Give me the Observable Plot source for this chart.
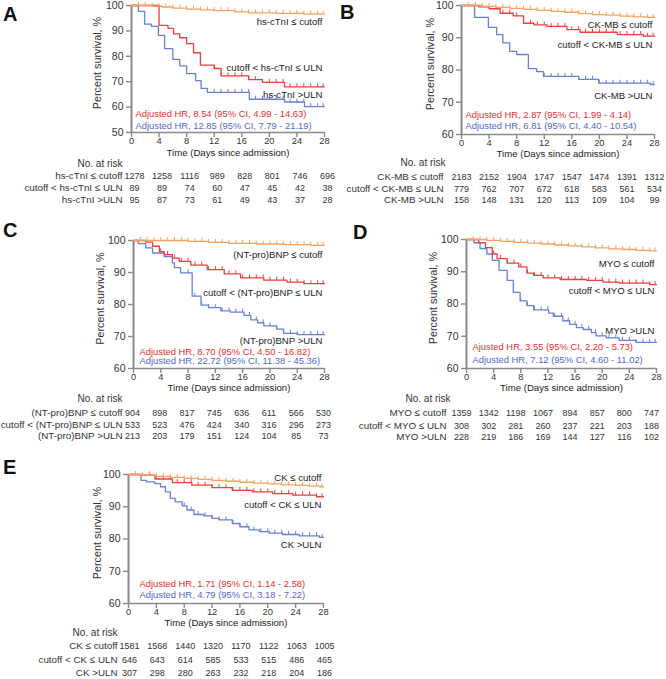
<!DOCTYPE html>
<html><head><meta charset="utf-8">
<script src="https://cdn.jsdelivr.net/npm/d3@7"></script>
<script src="https://cdn.jsdelivr.net/npm/@observablehq/plot@0.6"></script>
<style>
body{margin:0;background:#fff;}
#wrap{position:relative;width:666px;height:679px;overflow:hidden;background:#fff;}
#wrap svg{position:absolute;overflow:visible;}
.letter{position:absolute;font:bold 20px "Liberation Sans",Arial,sans-serif;line-height:20px;color:#111;}
</style></head>
<body><div id="wrap"></div>
<script>
// ---------- shared ----------
const days = [0, 4, 8, 12, 16, 20, 24, 28];
const censorDays = [1,2,3,4,5,6,7,8,9,10,11,12,13,14,15,16,17,18,19,20,21,22,23,24,25,26,27,27.8];
const COL_LOW = "#f7a25e", COL_MID = "#ef3e3e", COL_HIGH = "#6b7fd4";
const HR_MID = "#eb2d2d", HR_HIGH = "#5468c9";

// ---------- Panel A: hs-cTnI ----------
const aLow  = [[0,100],[3,99.7],[4.5,99.4],[6,99],[8,98.6],[10,98.3],[12,98],[15,97.5],[17,97.1],[21,96.9],[25,96.6]];
const aMid  = [[0,100],[4,92.2],[5.3,91],[6.1,88.8],[7,87.3],[8,85],[9,81.4],[10,76.5],[12,75.2],[13,72.3],[17,70.8],[19,69.7],[22.2,68]];
const aHigh = [[0,100],[1,97.7],[1.9,92.7],[2.9,91.8],[3.9,88.2],[4.8,83],[6,78.8],[7,76.2],[8,73.2],[9.3,70.4],[10.1,67.4],[11,65.8],[17.1,63.1],[22.2,62],[25.1,60.2]];
const aRiskLow  = [1278,1258,1116,989,828,801,746,696];
const aRiskMid  = [89,89,74,60,47,45,42,38];
const aRiskHigh = [95,87,73,61,49,43,37,28];
const aGroups = ["hs-cTnI ≤ cutoff", "cutoff < hs-cTnI ≤ ULN", "hs-cTnI >ULN"];
const aHR = ["Adjusted HR, 8.54 (95% CI, 4.99 - 14.63)", "Adjusted HR, 12.85 (95% CI, 7.79 - 21.19)"];
const aLabelY = [93.5, 75.6, 64.9, 57.4, 52.6];

// ---------- Panel B: CK-MB ----------
const bLow  = [[0,100],[3,99.7],[5,99.4],[7,99.1],[9,98.8],[11,98.5],[13,98.2],[15,97.9],[17,97.5],[19,97.2],[21,97],[23,96.7],[25,96.5],[27,96.3]];
const bMid  = [[0,100],[2.5,99.6],[4,99],[5.6,97.6],[7.5,96.8],[9,94.5],[10.5,94],[12.4,93.5],[15.3,92.5],[17.2,91.7],[22.6,91],[26.4,90.5]];
const bHigh = [[0,100],[1.9,96.3],[3.9,93.2],[5.1,91],[6,88.4],[7,85.8],[8,84.8],[9.7,80.4],[10.9,79.5],[11.9,78],[17,77.1],[19.9,75.9],[27.4,75.5]];
const bRiskLow  = [2183,2152,1904,1747,1547,1474,1391,1312];
const bRiskMid  = [779,762,707,672,618,583,561,534];
const bRiskHigh = [158,148,131,120,113,109,104,99];
const bGroups = ["CK-MB ≤ cutoff", "cutoff < CK-MB ≤ ULN", "CK-MB >ULN"];
const bHR = ["Adjusted HR, 2.87 (95% CI, 1.99 - 4.14)", "Adjusted HR, 6.81 (95% CI, 4.40 - 10.54)"];
const bLabelY = [94, 87.7, 71.9, 66, 62.5];

// ---------- Panel C: (NT-pro)BNP ----------
const cLow  = [[0,100],[8,99.7],[11,99.4],[14,99.1],[18,98.9],[22,98.7],[26,98.5]];
const cMid  = [[0,100],[1.8,99.5],[2.8,98.2],[3.8,96.5],[4.5,95.6],[5.7,94.5],[6.7,93.5],[8.4,92.3],[10.8,90.9],[13.3,89.6],[15.7,88.3],[19.1,87.6],[22.5,87],[25,86.5]];
const cHigh = [[0,100],[0.7,99],[1.8,97.7],[2.8,96.1],[4.5,95],[5.7,93],[6,91.5],[6.9,89.9],[8.6,82.6],[9.9,79.8],[11,79],[12.8,78],[14.2,77.6],[16.2,76.6],[17.2,75.2],[18.2,74.3],[19.1,73.3],[21,72.3],[22,71],[24,70.6]];
const cRiskLow  = [904,898,817,745,636,611,566,530];
const cRiskMid  = [533,523,476,424,340,316,296,273];
const cRiskHigh = [213,203,179,151,124,104,85,73];
const cGroups = ["(NT-pro)BNP ≤ cutoff", "cutoff < (NT-pro)BNP ≤ ULN", "(NT-pro)BNP >ULN"];
const cHR = ["Adjusted HR, 8.70 (95% CI, 4.50 - 16.82)", "Adjusted HR, 22.72 (95% CI, 11.38 - 45.36)"];
const cLabelY = [95.6, 83.6, 68.7, 65.3, 62.2];

// ---------- Panel D: MYO ----------
const dLow  = [[0,100],[3,99.7],[5,99.4],[7,99.1],[9,98.9],[11,98.6],[13,98.3],[15,98],[17,97.7],[19,97.4],[21,97.1],[23,96.9],[25,96.6],[27,96.5]];
const dMid  = [[0,100],[1.8,99],[2.8,97.5],[3.8,95.5],[4.5,94.1],[6,92.7],[7.7,91.5],[8.9,89.6],[9.9,88.9],[11.3,88.1],[13.8,87.6],[17.7,87.3],[20.1,86.8],[22.5,86.5],[27,86]];
const dHigh = [[0,100],[1.1,99],[2,97.2],[3,95.5],[3.8,93.5],[4.8,90.4],[6,87.3],[6.9,83.6],[7.9,81],[8.9,79.5],[9.9,78.2],[12.1,77.2],[12.8,76.2],[14.2,74.8],[15.2,73.7],[16.2,72.7],[17.2,72.1],[18.4,71.1],[19.1,70.1],[20.6,69.5],[22.5,68.7],[25,68.1]];
const dRiskLow  = [1359,1342,1198,1067,894,857,800,747];
const dRiskMid  = [308,302,281,260,237,221,203,188];
const dRiskHigh = [228,219,186,169,144,127,116,102];
const dGroups = ["MYO ≤ cutoff", "cutoff < MYO ≤ ULN", "MYO >ULN"];
const dHR = ["Ajusted HR, 3.55 (95% CI, 2.20 - 5.73)", "Adjusted HR, 7.12 (95% CI, 4.60 - 11.02)"];
const dLabelY = [92.5, 84, 71.7, 66.8, 62.6];

// ---------- Panel E: CK ----------
const eLow  = [[0,100],[2,99.8],[4,99.4],[6,99.1],[8,98.8],[10,98.5],[12,98.2],[14,97.9],[16,97.6],[18,97.3],[20,97.1],[22,96.8],[24,96.6],[26,96.4],[27.5,96.2]];
const eMid  = [[0,100],[2,99.8],[3.8,98.6],[6.3,97.5],[9.1,96.7],[12,95.9],[14.9,95.1],[17.8,94.6],[20.7,94.1],[23.6,93.6],[27,93.1]];
const eHigh = [[0,100],[1.8,98.2],[2.6,97.7],[3.8,97.2],[4.6,96.2],[5.3,94.6],[6,92.6],[6.7,91.5],[7.7,90.3],[8.4,89],[9.4,87.6],[10.8,87.2],[12,86.4],[13,85.9],[14.9,84.8],[16,83.8],[17.3,82.8],[18.8,82.3],[20.2,81.8],[22.1,81.4],[24.5,81],[27.4,80.5]];
const eRiskLow  = [1581,1568,1440,1320,1170,1122,1063,1005];
const eRiskMid  = [646,643,614,585,533,515,486,465];
const eRiskHigh = [307,298,280,263,232,218,204,186];
const eGroups = ["CK ≤ cutoff", "cutoff < CK ≤ ULN", "CK >ULN"];
const eHR = ["Adjusted HR, 1.71 (95% CI, 1.14 - 2.58)", "Adjusted HR, 4.79 (95% CI, 3.18 - 7.22)"];
const eLabelY = [98.8, 90.5, 78.1, 66, 62.7];

// ---------- layout (positions only) ----------
const panels = [
  {letter:"A", lx:3, ly:7, left:0, top:0, mL:131, mR:9, mT:5, pH:127, mB:78, yMin:50,
   curves:[aLow,aMid,aHigh], from:[1,12,12], risk:[aRiskLow,aRiskMid,aRiskHigh], groups:aGroups, hr:aHR, labelY:aLabelY,
   dyTitle:22, dyNar:34, dyRows:[46,58,70], dxLab:-9, dxNum:3, dxNar:-54, dxHR:4, dxY:-34},
  {letter:"B", lx:340, ly:5, left:333, top:0, mL:128, mR:12, mT:5, pH:129, mB:76, yMin:60,
   curves:[bLow,bMid,bHigh], from:[1,6,12], risk:[bRiskLow,bRiskMid,bRiskHigh], groups:bGroups, hr:bHR, labelY:bLabelY,
   dyTitle:21, dyNar:31, dyRows:[45,57,68], dxLab:-18, dxNum:0, dxNar:-61, dxHR:4, dxY:-31},
  {letter:"C", lx:3, ly:223, left:0, top:225, mL:133, mR:9, mT:15, pH:128, mB:76, yMin:60,
   curves:[cLow,cMid,cHigh], from:[1,4,8], risk:[cRiskLow,cRiskMid,cRiskHigh], groups:cGroups, hr:cHR, labelY:cLabelY,
   dyTitle:21, dyNar:33, dyRows:[47,59,70], dxLab:-11, dxNum:-1, dxNar:-56, dxHR:6, dxY:-33},
  {letter:"D", lx:353, ly:225, left:333, top:225, mL:133, mR:10, mT:14, pH:129, mB:76, yMin:60,
   curves:[dLow,dMid,dHigh], from:[1,4,8], risk:[dRiskLow,dRiskMid,dRiskHigh], groups:dGroups, hr:dHR, labelY:dLabelY,
   dyTitle:21, dyNar:33, dyRows:[47,60,71], dxLab:-20, dxNum:-5, dxNar:-61, dxHR:6, dxY:-33},
  {letter:"E", lx:3, ly:460, left:0, top:459, mL:128, mR:10, mT:15, pH:129, mB:76, yMin:60,
   curves:[eLow,eMid,eHigh], from:[1,3,8], risk:[eRiskLow,eRiskMid,eRiskHigh], groups:eGroups, hr:eHR, labelY:eLabelY,
   dyTitle:21, dyNar:32, dyRows:[45,59,72], dxLab:-11, dxNum:1, dxNar:-56, dxHR:11, dxY:-31}
];

const tickUp = { draw(ctx) { ctx.moveTo(0, 0); ctx.lineTo(0, -3.5); } };
function survAt(curve, t) { let s = curve[0][1]; for (const [ti, si] of curve) if (ti <= t) s = si; return s; }

const FONT = "'Liberation Sans', Arial, sans-serif";
const wrap = document.getElementById("wrap");
const colors = [COL_LOW, COL_MID, COL_HIGH];

for (const p of panels) {
  const yTicks = d3.range(p.yMin, 101, 10);
  const marks = [];
  // axes
  marks.push(Plot.axisY({ticks: yTicks, tickSize: 5, tickPadding: 3, tickFormat: d => d, label: null, stroke: "#8a8a8a", strokeWidth: 1.4, fill: "#333", fontSize: 10.5}));
  marks.push(Plot.axisX({ticks: days, tickSize: 5, tickPadding: 0, tickFormat: d => d, label: null, stroke: "#8a8a8a", strokeWidth: 1.4, fill: "#333", fontSize: 9.3}));
  marks.push(Plot.ruleY([p.yMin], {stroke: "#8a8a8a", strokeWidth: 1.4}));
  marks.push(Plot.ruleX([0], {stroke: "#8a8a8a", strokeWidth: 2}));
  // curves (high drawn first, low on top)
  [2, 1, 0].forEach(i => {
    const pts = p.curves[i];
    const last = pts[pts.length - 1];
    const line = last[0] < 28 ? pts.concat([[28, last[1]]]) : pts;
    marks.push(Plot.line(line, {x: d => d[0], y: d => d[1], curve: "step-after", stroke: colors[i], strokeWidth: 1.3}));
    const cens = censorDays.filter(t => t >= p.from[i]).map(t => [t, survAt(pts, t)]);
    marks.push(Plot.dot(cens, {x: d => d[0], y: d => d[1], symbol: tickUp, stroke: colors[i], fill: "none", strokeWidth: 1}));
  });
  // curve labels (right aligned)
  p.groups.forEach((g, i) => {
    marks.push(Plot.text([g], {y: () => p.labelY[i], frameAnchor: "right", textAnchor: "end", dx: -2, fontSize: 9.6, fill: "#222", fontFamily: FONT}));
  });
  // HR text
  marks.push(Plot.text([p.hr[0]], {y: () => p.labelY[3], frameAnchor: "left", textAnchor: "start", dx: p.dxHR, fontSize: 9.4, fill: HR_MID, fontFamily: FONT}));
  marks.push(Plot.text([p.hr[1]], {y: () => p.labelY[4], frameAnchor: "left", textAnchor: "start", dx: p.dxHR, fontSize: 9.4, fill: HR_HIGH, fontFamily: FONT}));
  // axis titles
  marks.push(Plot.text(["Percent survival, %"], {frameAnchor: "left", textAnchor: "middle", rotate: -90, dx: p.dxY, dy: -6, fontSize: 10.8, fill: "#333", fontFamily: FONT}));
  marks.push(Plot.text(["Time (Days since admission)"], {frameAnchor: "bottom", dy: p.dyTitle + 1, fontSize: 9.6, fill: "#222", fontFamily: FONT}));
  // at-risk table
  marks.push(Plot.text(["No. at risk"], {frameAnchor: "bottom-left", textAnchor: "start", dx: p.dxNar, dy: p.dyNar, fontSize: 10, fill: "#333", fontFamily: FONT}));
  p.risk.forEach((row, i) => {
    marks.push(Plot.text(days, {x: d => d, text: (d, j) => String(row[j]), frameAnchor: "bottom", dx: p.dxNum, dy: p.dyRows[i], fontSize: 9, fill: "#333", fontFamily: FONT}));
    marks.push(Plot.text([p.groups[i]], {frameAnchor: "bottom-left", textAnchor: "end", dx: p.dxLab, dy: p.dyRows[i], fontSize: 9.8, fill: "#333", fontFamily: FONT}));
  });

  const svg = Plot.plot({
    width: 333,
    height: p.mT + p.pH + p.mB,
    marginLeft: p.mL, marginRight: p.mR, marginTop: p.mT, marginBottom: p.mB,
    x: {domain: [0, 28], axis: null},
    y: {domain: [p.yMin, 100], axis: null},
    style: {fontFamily: FONT, fontSize: "10px", background: "transparent", overflow: "visible"},
    marks
  });
  svg.style.left = p.left + "px";
  svg.style.top = p.top + "px";
  wrap.appendChild(svg);

  const L = document.createElement("div");
  L.className = "letter";
  L.textContent = p.letter;
  L.style.left = p.lx + "px";
  L.style.top = (p.ly - 3) + "px";
  wrap.appendChild(L);
}
</script>
</body></html>
